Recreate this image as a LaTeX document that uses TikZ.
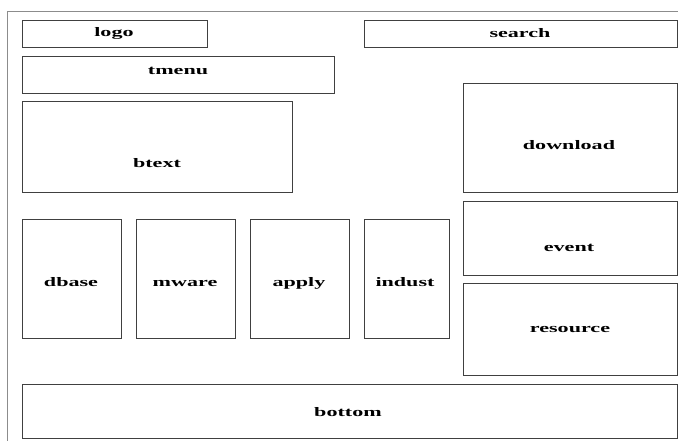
\documentclass[tikz,border=0pt]{standalone}
\usepackage{fontspec}
\setmainfont{Liberation Serif}
\begin{document}
\begin{tikzpicture}[x=1pt,y=-1pt,
  box/.style={draw=black!75, line width=1pt, rectangle, inner sep=0pt},
  lbl/.style={anchor=base, inner sep=0pt, font=\fontsize{13}{13}\selectfont\bfseries},
  frame/.style={draw=black!45, line width=1pt}]
\useasboundingbox (0,0) rectangle (678,441);
\coordinate (ftop) at (678,12);
\coordinate (fcorner) at (7,12);
\coordinate (fbot) at (7,441);
\draw[frame] (ftop) -- (fcorner) -- (fbot);
\newcommand{\boxat}[5]{%
  \node[box, minimum width={(#4-#2)*1pt}, minimum height={(#5-#3)*1pt}] (#1) at ({(#2+#4)/2},{(#3+#5)/2}) {};}
\boxat{logo}{22}{21}{207}{48}
\boxat{search}{364}{21}{677}{48}
\boxat{tmenu}{22}{57}{334}{94}
\boxat{btext}{22}{102}{292}{193}
\boxat{download}{463}{84}{677}{193}
\boxat{event}{463}{202}{677}{275}
\boxat{resource}{463}{283}{677}{375}
\boxat{dbase}{22}{220}{121}{338}
\boxat{mware}{136}{220}{235}{338}
\boxat{apply}{250}{220}{349}{338}
\boxat{indust}{364}{220}{449}{338}
\boxat{bottom}{22}{384}{677}{438}
\newcommand{\lab}[4]{\node[lbl] (#1) at (#2,#3) {\scalebox{1.7}[1]{#4}};}
\lab{tlogo}{114}{37}{logo}
\lab{tsearch}{520}{38}{search}
\lab{ttmenu}{178}{75}{tmenu}
\lab{tbtext}{157}{167.5}{btext}
\lab{tdownload}{569}{149.5}{download}
\lab{tevent}{569}{251.5}{event}
\lab{tresource}{570}{332.5}{resource}
\lab{tdbase}{71}{286}{dbase}
\lab{tmware}{185}{286}{mware}
\lab{tapply}{299}{286}{apply}
\lab{tindust}{405}{286}{indust}
\lab{tbottom}{348}{416.5}{bottom}
\end{tikzpicture}
\end{document}
